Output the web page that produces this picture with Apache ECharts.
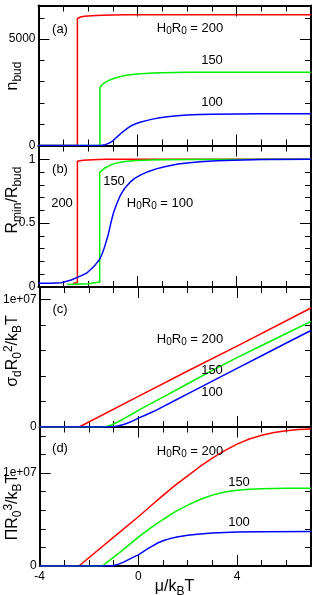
<!DOCTYPE html>
<html><head><meta charset="utf-8">
<script src="https://cdn.jsdelivr.net/npm/echarts@6/dist/echarts.min.js"></script>
<style>html,body{margin:0;padding:0;background:#fff}#c{width:325px;height:595px}</style>
</head><body><div id="c"></div>
<script>
// ---- data ----
const xTickLabels = [-4, 0, 4];
const curveLabels = ['200', '150', '100'];
const colors = ['#ff0000', '#00f000', '#0000ff'];

// (a) n_bud
const nBudRed = [[-4,0],[-2.43,0],[-2.43,5970],[-2.38,6010],[-2.3,6040],[-2.15,6070],[-2.0,6090],[-1.7,6110],[-1.4,6125],[-1,6135],[-0.5,6142],[0,6146],[1,6150],[7,6150]];
const nBudGreen = [[-4,0],[-1.52,0],[-1.52,2730],[-1.45,2830],[-1.35,2940],[-1.2,3040],[-1.0,3140],[-0.8,3210],[-0.6,3265],[-0.4,3310],[-0.2,3340],[0,3360],[0.3,3385],[0.6,3405],[1,3420],[1.5,3432],[2,3437],[3,3440],[7,3440]];
const nBudBlue = [[-4,0],[-1.6,0],[-1.45,10],[-1.3,40],[-1.15,110],[-1.0,220],[-0.85,380],[-0.7,540],[-0.55,690],[-0.4,820],[-0.25,930],[-0.1,1010],[0.1,1090],[0.35,1170],[0.6,1240],[0.9,1300],[1.2,1350],[1.6,1395],[2,1430],[2.5,1455],[3,1470],[4,1485],[5,1492],[7,1495]];

// (b) R_min / R_bud
const rRatioRed = [[-2.6,0.03],[-2.43,0.034],[-2.43,0.985],[-2.2,0.992],[-1.8,0.997],[-1.3,1.0],[7,1.0]];
const rRatioGreen = [[-2.84,0.02],[-2.0,0.025],[-1.53,0.04],[-1.53,0.898],[-1.45,0.912],[-1.35,0.928],[-1.2,0.945],[-1.05,0.958],[-0.9,0.968],[-0.7,0.977],[-0.5,0.983],[-0.2,0.988],[0,0.99],[0.5,0.994],[1,0.996],[2,0.999],[7,1.0]];
const rRatioBlue = [[-4,0.029],[-3.5,0.03],[-3.08,0.034],[-2.68,0.055],[-2.27,0.089],[-2.05,0.11],[-1.87,0.141],[-1.7,0.175],[-1.53,0.217],[-1.43,0.26],[-1.33,0.316],[-1.26,0.36],[-1.19,0.407],[-1.12,0.465],[-1.05,0.525],[-0.98,0.575],[-0.92,0.611],[-0.82,0.662],[-0.72,0.707],[-0.62,0.743],[-0.52,0.773],[-0.32,0.817],[-0.12,0.851],[0.15,0.88],[0.42,0.903],[0.75,0.925],[1.09,0.942],[1.63,0.963],[2.1,0.973],[2.52,0.98],[3.2,0.988],[3.86,0.993],[5,0.998],[7,1.0]];

// (c) sigma_d R0^2 / kBT
const sigmaRed = [[-4,0],[-2.4,0],[0,2.4e6],[2,4.4e6],[4,6.35e6],[7,9.35e6]];
const sigmaGreen = [[-4,0],[-1.45,0],[-1.3,0.03e6],[-1.1,0.15e6],[-0.9,0.33e6],[-0.7,0.53e6],[-0.5,0.75e6],[-0.25,1.02e6],[0,1.3e6],[0.5,1.83e6],[1,2.35e6],[2,3.4e6],[3,4.45e6],[4,5.45e6],[5,6.4e6],[6,7.35e6],[7,8.3e6]];
const sigmaBlue = [[-4,0],[-1.25,0],[-1.0,0.03e6],[-0.8,0.1e6],[-0.6,0.2e6],[-0.4,0.33e6],[-0.2,0.5e6],[0,0.7e6],[0.25,0.9e6],[0.5,1.12e6],[0.75,1.35e6],[1,1.6e6],[1.5,2.1e6],[2,2.6e6],[3,3.6e6],[4,4.6e6],[5,5.6e6],[6,6.6e6],[7,7.58e6]];

// (d) Pi R0^3 / kBT
const piRed = [[-4,0],[-2.41,0],[-1,3.1e6],[0,5.3e6],[0.5,6.45e6],[1,7.6e6],[1.5,8.7e6],[2,9.7e6],[2.5,10.7e6],[3,11.6e6],[3.5,12.4e6],[4,13.1e6],[4.5,13.65e6],[5,14.05e6],[5.5,14.35e6],[6,14.55e6],[6.5,14.67e6],[7,14.72e6]];
const piGreen = [[-4,0],[-1.46,0],[-1,0.95e6],[-0.5,2.0e6],[0,3.1e6],[0.5,4.1e6],[1,5.0e6],[1.5,5.85e6],[2,6.55e6],[2.5,7.15e6],[2.75,7.4e6],[3,7.62e6],[3.5,7.95e6],[4,8.15e6],[4.5,8.26e6],[5,8.31e6],[6,8.35e6],[7,8.35e6]];
const piBlue = [[-4,0],[-1.2,0],[-1.0,0.05e6],[-0.8,0.2e6],[-0.6,0.42e6],[-0.4,0.68e6],[-0.2,0.95e6],[0,1.2e6],[0.2,1.55e6],[0.4,1.9e6],[0.6,2.2e6],[0.8,2.5e6],[1,2.72e6],[1.25,2.92e6],[1.5,3.08e6],[1.75,3.2e6],[2,3.3e6],[2.5,3.45e6],[3,3.55e6],[3.5,3.61e6],[4,3.65e6],[5,3.68e6],[7,3.7e6]];

// y tick labels per panel
const yLabelsA = [0, 5000];
const yLabelsB = [0, 0.5, 1];
const yLabelsC = [0, 1e7];
const yLabelsD = [0, 1e7];

// ---- layout ----
const FONT = '"Liberation Sans", Arial, Helvetica, sans-serif';
const L = 38.5, R = 14;
const panels = [
  {top:5.5, height:140, max:6580, major:5000, minor:1000, labels:yLabelsA, series:[nBudRed,nBudGreen,nBudBlue]},
  {top:145.5, height:141.5, max:1.108, major:0.5, minor:0.1, labels:yLabelsB, series:[rRatioRed,rRatioGreen,rRatioBlue]},
  {top:287, height:140, max:1.1e7, major:1e7, minor:2e6, labels:yLabelsC, series:[sigmaRed,sigmaGreen,sigmaBlue]},
  {top:426.5, height:139.5, max:1.5e7, major:1e7, minor:2e6, labels:yLabelsD, series:[piRed,piGreen,piBlue]}
];
function fmtY(v, labels){
  for (const l of labels) if (Math.abs(v-l) < 1e-9*Math.max(1,Math.abs(l))) return l===1e7 ? '1e+07' : String(l);
  return '';
}
const grids=[], xAxes=[], yAxes=[], series=[];
panels.forEach((p,i)=>{
  grids.push({left:L, right:R, top:p.top, height:p.height});
  [['bottom',true],['bottom',false],['top',true],['top',false]].forEach(([pos,maj])=>{
    xAxes.push({type:'value', gridIndex:i, position:pos, min:-4, max:7, interval: maj?4:1,
      axisLine:{show:maj, onZero:false, lineStyle:{color:'#000', width:2}},
      axisTick:{show:true, inside:true, length: maj?11:6, lineStyle:{color:'#000', width:1}},
      axisLabel:{show: maj && pos==='bottom' && i===3, color:'#000', fontSize:12, fontFamily:FONT, margin:5,
        formatter: v => xTickLabels.includes(v) ? String(v) : ''},
      splitLine:{show:false}});
  });
  [['left',true],['left',false],['right',true],['right',false]].forEach(([pos,maj])=>{
    yAxes.push({type:'value', gridIndex:i, position:pos, min:0, max:p.max, interval: maj?p.major:p.minor,
      axisLine:{show:maj, onZero:false, lineStyle:{color:'#000', width:2}},
      axisTick:{show:true, inside:true, length: maj?11:6, lineStyle:{color:'#000', width:1}},
      axisLabel:{show: maj && pos==='left', color:'#000', fontSize:12, fontFamily:FONT, margin:3,
        formatter: v => fmtY(v, p.labels)},
      splitLine:{show:false}});
  });
  p.series.forEach((d,k)=>{
    series.push({type:'line', xAxisIndex:4*i, yAxisIndex:4*i, data:d, showSymbol:false, symbol:'none',
      smooth:false, lineStyle:{color:colors[k], width:1.5, join:'round'}, z: 2+k, animation:false});
  });
});

const rich = {
  m:{fontSize:16, fontFamily:FONT, fill:'#000'},
  s:{fontSize:12, fontFamily:FONT, padding:[9,0,0,0]},
  p:{fontSize:12, fontFamily:FONT, padding:[0,0,9,0]},
  t:{fontSize:13, fontFamily:FONT},
  ts:{fontSize:10, fontFamily:FONT, padding:[7,0,0,0]},
  r:{fontSize:13, fontFamily:FONT, color:colors[0]},
  g:{fontSize:13, fontFamily:FONT, color:colors[1]},
  b:{fontSize:13, fontFamily:FONT, color:colors[2]}
};
function txt(x,y,text,opts){
  return Object.assign({type:'text', x:x, y:y, z:100,
    style:Object.assign({text:text, rich:rich, fill:'#000', align:'center', verticalAlign:'middle', font:'13px '+FONT}, opts||{})});
}
function rot(x,y,text){ const t = txt(x,y,text); t.rotation = Math.PI/2; return t; }
const HR = '{t|H}{ts|0}{t|R}{ts|0}{t| = }';
const graphics = [
  rot(13, 76, '{m|n}{s|bud}'),
  rot(13, 200, '{m|R}{s|min}{m|/R}{s|bud}'),
  rot(13, 351, '{m|σ}{s|d}{m|R}{s|0}{p|2}{m|/k}{s|B}{m|T}'),
  rot(13, 507, '{m|ΠR}{s|0}{p|3}{m|/k}{s|B}{m|T}'),
  txt(174.5, 587, '{m|μ/k}{s|B}{m|T}'),
  txt(60, 29, '{t|(a)}'),
  txt(190, 28, HR+'{r|'+curveLabels[0]+'}'),
  txt(212, 60, '{g|'+curveLabels[1]+'}'),
  txt(212, 102, '{b|'+curveLabels[2]+'}'),
  txt(60, 169, '{t|(b)}'),
  txt(62, 203, '{r|'+curveLabels[0]+'}'),
  txt(114, 181, '{g|'+curveLabels[1]+'}'),
  txt(160, 203, HR+'{b|'+curveLabels[2]+'}'),
  txt(60, 309, '{t|(c)}'),
  txt(190, 339, HR+'{r|'+curveLabels[0]+'}'),
  txt(212, 370, '{g|'+curveLabels[1]+'}'),
  txt(212, 392, '{b|'+curveLabels[2]+'}'),
  txt(60, 448, '{t|(d)}'),
  txt(190, 451, HR+'{r|'+curveLabels[0]+'}'),
  txt(239, 482, '{g|'+curveLabels[1]+'}'),
  txt(239, 522, '{b|'+curveLabels[2]+'}')
];

const chart = echarts.init(document.getElementById('c'), null, {renderer:'canvas'});
chart.setOption({animation:false, grid:grids, xAxis:xAxes, yAxis:yAxes, series:series, graphic:graphics});
</script></body></html>
